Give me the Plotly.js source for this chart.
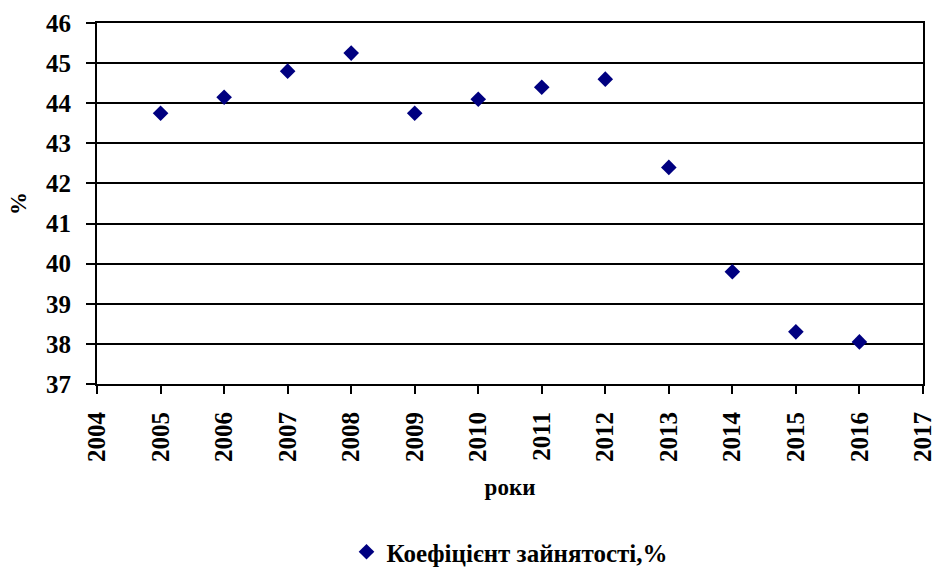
<!DOCTYPE html>
<html><head><meta charset="utf-8">
<script src="https://cdn.plot.ly/plotly-3.0.1.min.js"></script>
<style>html,body{margin:0;padding:0;background:#fff;overflow:hidden}#chart{width:932px;height:572px}</style>
</head><body><div id="chart"></div>
<script>
const years = [2005, 2006, 2007, 2008, 2009, 2010, 2011, 2012, 2013, 2014, 2015, 2016];
const employmentRate = [43.75, 44.15, 44.8, 45.25, 43.75, 44.1, 44.4, 44.6, 42.4, 39.8, 38.3, 38.05];
const xTicks = [2004, 2005, 2006, 2007, 2008, 2009, 2010, 2011, 2012, 2013, 2014, 2015, 2016, 2017];
const seriesName = 'Коефіцієнт зайнятості,%';
const xTitle = 'роки';
const yTitle = '%';

const fam = '"Liberation Serif", "Times New Roman", serif';
const f = (s) => ({family: fam, size: s, weight: 'bold', color: '#000'});

Plotly.newPlot('chart', [{
  x: years, y: employmentRate, type: 'scatter', mode: 'markers', name: seriesName,
  marker: {symbol: 'diamond', size: 12, color: '#000080'}
}], {
  width: 932, height: 572,
  margin: {l: 97, r: 9, t: 23, b: 188},
  paper_bgcolor: '#fff', plot_bgcolor: '#fff',
  font: f(22),
  showlegend: true,
  legend: {orientation: 'h', x: 0.5, xanchor: 'center',
           y: (572 - 552) / 572, yanchor: 'middle', yref: 'container', font: f(25)},
  xaxis: {
    range: [2003.999, 2017.001], tickmode: 'array', tickvals: xTicks, ticktext: xTicks.map(String), tickangle: -90,
    automargin: false, ticklabeloverflow: 'allow', ticklabelstandoff: 8,
    showgrid: false, zeroline: false, showline: true, linecolor: '#000', linewidth: 2, mirror: true,
    ticks: 'outside', ticklen: 8, tickwidth: 2, tickcolor: '#000',
    tickfont: f(25),
    title: {text: xTitle, standoff: 18, font: f(23)}
  },
  yaxis: {
    range: [37, 46], dtick: 1, automargin: false, ticklabelstandoff: 10,
    showgrid: true, gridcolor: '#000', gridwidth: 2, zeroline: false,
    showline: true, linecolor: '#000', linewidth: 2, mirror: true,
    ticks: 'outside', ticklen: 9, tickwidth: 2, tickcolor: '#000',
    tickfont: f(25),
    title: {text: yTitle, standoff: 13, font: f(23)}
  }
}, {displayModeBar: false, staticPlot: true});
</script></body></html>
